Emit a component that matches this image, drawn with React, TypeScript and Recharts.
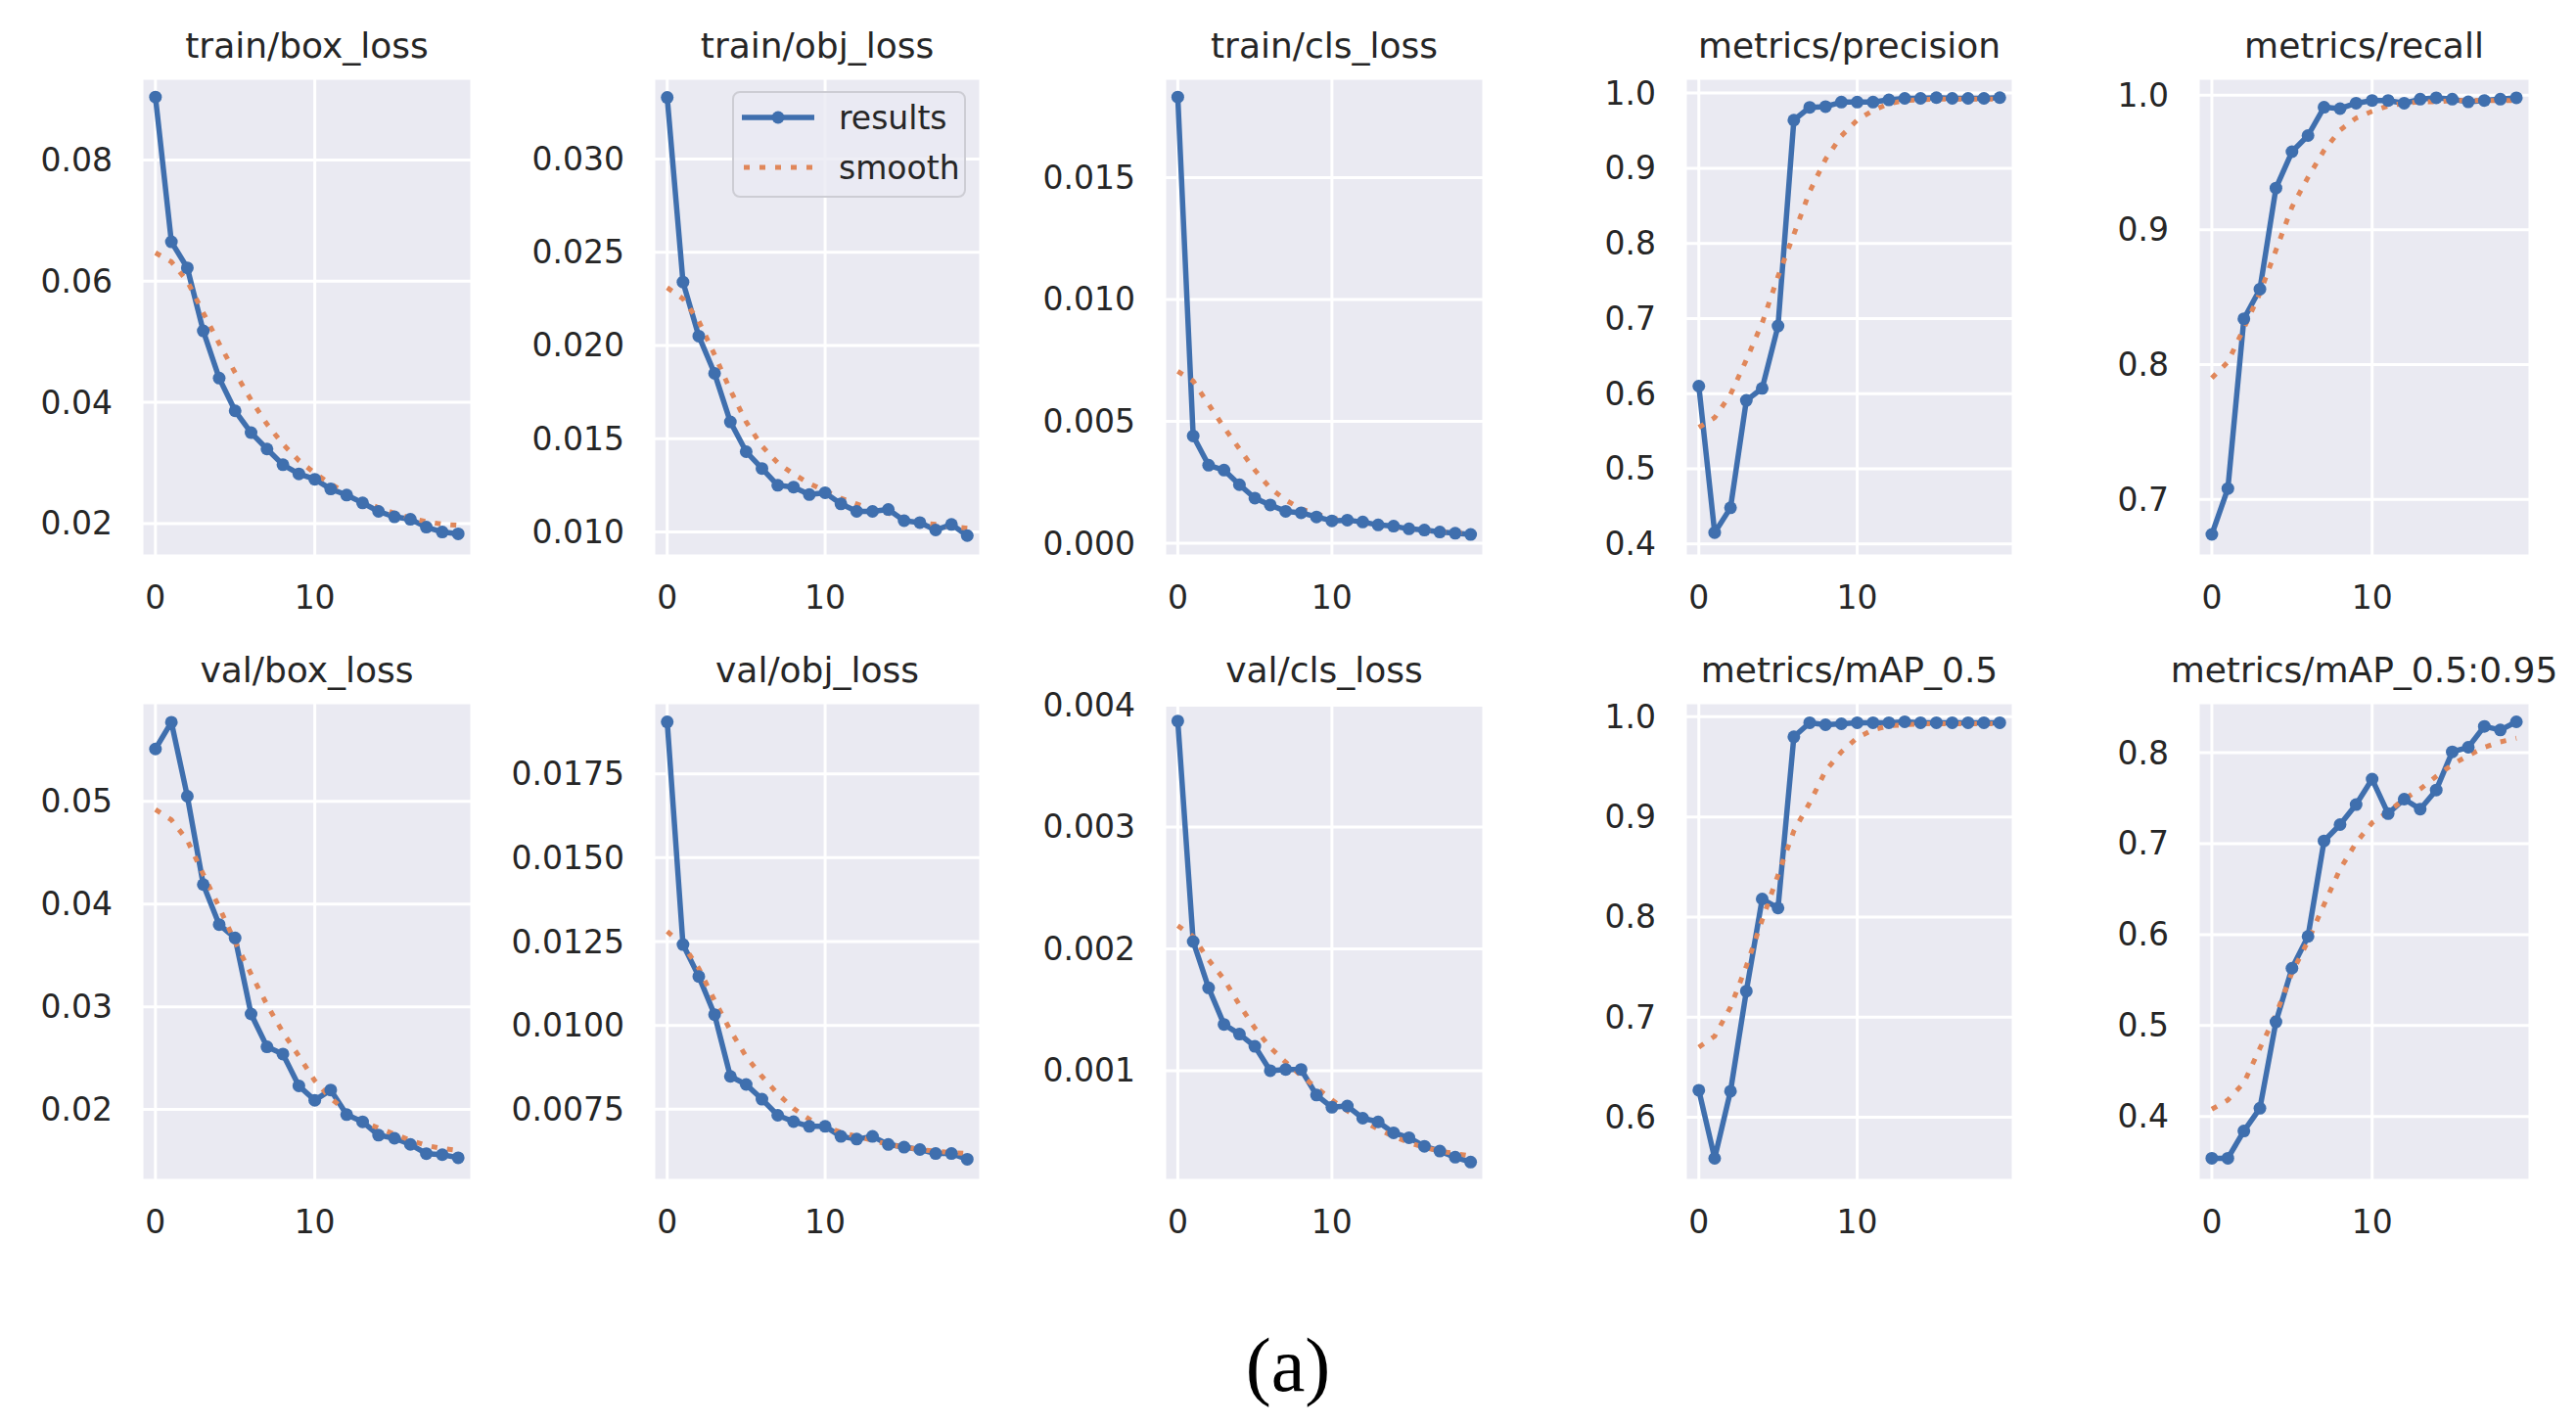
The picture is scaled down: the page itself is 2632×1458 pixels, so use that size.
import React from 'react';
import { LineChart, Line, XAxis, YAxis, CartesianGrid, Legend } from 'recharts';

// ---------------- data ----------------
const epochs = [0, 1, 2, 3, 4, 5, 6, 7, 8, 9, 10, 11, 12, 13, 14, 15, 16, 17, 18, 19];
const xTicks = [0, 10];
const xTickLabels = ['0', '10'];

const titles = [
  'train/box_loss', 'train/obj_loss', 'train/cls_loss', 'metrics/precision', 'metrics/recall',
  'val/box_loss', 'val/obj_loss', 'val/cls_loss', 'metrics/mAP_0.5', 'metrics/mAP_0.5:0.95',
];
const seriesNames = ['results', 'smooth'];
const captionText = '(a)';

const trainBoxResults = [0.0904, 0.0665, 0.0622, 0.0518, 0.0440, 0.0386, 0.0350, 0.0323, 0.0297, 0.0282, 0.0273, 0.0257, 0.0247, 0.0234, 0.0220, 0.0211, 0.0207, 0.0194, 0.0186, 0.0183];
const trainBoxSmooth = [0.0647, 0.0632, 0.0600, 0.0548, 0.0497, 0.0449, 0.0404, 0.0364, 0.0331, 0.0304, 0.0283, 0.0265, 0.0250, 0.0237, 0.0226, 0.0217, 0.0209, 0.0203, 0.0199, 0.0197];

const trainObjResults = [0.0333, 0.0234, 0.0205, 0.0185, 0.0159, 0.0143, 0.0134, 0.0125, 0.0124, 0.0120, 0.0121, 0.0115, 0.0111, 0.0111, 0.0112, 0.0106, 0.0105, 0.0101, 0.0104, 0.0098];
const trainObjSmooth = [0.0231, 0.0225, 0.0213, 0.0195, 0.0176, 0.0159, 0.0146, 0.0137, 0.0131, 0.0126, 0.0122, 0.0118, 0.0115, 0.0112, 0.0110, 0.0107, 0.0105, 0.0104, 0.0103, 0.0102];

const trainClsResults = [0.0183, 0.0044, 0.0032, 0.0030, 0.0024, 0.00185, 0.00157, 0.00131, 0.00125, 0.00108, 0.00092, 0.00095, 0.00087, 0.00075, 0.00070, 0.00059, 0.00054, 0.00046, 0.00041, 0.00036];
const trainClsSmooth = [0.00705, 0.00665, 0.00570, 0.00475, 0.00387, 0.00300, 0.00226, 0.00177, 0.00141, 0.00120, 0.00103, 0.00092, 0.00082, 0.00074, 0.00066, 0.00059, 0.00053, 0.00048, 0.00044, 0.00042];

const precisionResults = [0.610, 0.415, 0.448, 0.591, 0.607, 0.690, 0.964, 0.981, 0.982, 0.988, 0.988, 0.988, 0.991, 0.993, 0.993, 0.994, 0.993, 0.993, 0.993, 0.994];
const precisionSmooth = [0.555, 0.568, 0.599, 0.645, 0.694, 0.756, 0.812, 0.869, 0.912, 0.943, 0.964, 0.977, 0.986, 0.990, 0.991, 0.992, 0.992, 0.992, 0.992, 0.992];

const recallResults = [0.674, 0.708, 0.834, 0.856, 0.931, 0.958, 0.970, 0.991, 0.990, 0.994, 0.996, 0.996, 0.994, 0.997, 0.998, 0.997, 0.995, 0.996, 0.997, 0.998];
const recallSmooth = [0.790, 0.802, 0.827, 0.853, 0.885, 0.917, 0.939, 0.959, 0.974, 0.983, 0.988, 0.992, 0.994, 0.995, 0.995, 0.996, 0.996, 0.996, 0.996, 0.996];

const valBoxResults = [0.0551, 0.0577, 0.0505, 0.0419, 0.0380, 0.0367, 0.0293, 0.0261, 0.0254, 0.0223, 0.0209, 0.0219, 0.0195, 0.0188, 0.0175, 0.0172, 0.0166, 0.0157, 0.0156, 0.0153];
const valBoxSmooth = [0.0492, 0.0482, 0.0462, 0.0429, 0.0397, 0.0363, 0.0332, 0.0302, 0.0275, 0.0252, 0.0228, 0.0211, 0.0198, 0.0188, 0.0182, 0.0176, 0.0170, 0.0165, 0.0162, 0.0160];

const valObjResults = [0.01905, 0.01241, 0.01146, 0.01032, 0.00848, 0.00824, 0.00780, 0.00732, 0.00713, 0.00699, 0.00699, 0.00669, 0.00661, 0.00669, 0.00645, 0.00637, 0.00630, 0.00618, 0.00618, 0.00601];
const valObjSmooth = [0.0128, 0.0124, 0.0117, 0.01074, 0.00985, 0.00907, 0.00848, 0.00796, 0.00752, 0.00720, 0.00699, 0.00681, 0.00669, 0.00657, 0.00645, 0.00637, 0.00630, 0.00625, 0.00621, 0.00618];

const valClsResults = [0.00387, 0.00206, 0.00168, 0.00138, 0.00130, 0.00120, 0.00100, 0.00101, 0.00101, 0.00080, 0.00070, 0.00071, 0.00061, 0.00058, 0.00049, 0.00045, 0.00038, 0.00034, 0.00029, 0.00025];
const valClsSmooth = [0.00219, 0.00210, 0.00191, 0.00175, 0.00154, 0.00135, 0.00119, 0.00107, 0.00096, 0.00086, 0.00076, 0.00067, 0.00059, 0.00052, 0.00046, 0.00041, 0.00037, 0.00034, 0.00032, 0.00030];

const map50Results = [0.627, 0.559, 0.626, 0.726, 0.818, 0.809, 0.980, 0.994, 0.992, 0.993, 0.994, 0.994, 0.994, 0.995, 0.994, 0.994, 0.994, 0.994, 0.994, 0.994];
const map50Smooth = [0.670, 0.681, 0.710, 0.751, 0.797, 0.842, 0.886, 0.914, 0.946, 0.965, 0.979, 0.987, 0.991, 0.992, 0.993, 0.993, 0.993, 0.993, 0.993, 0.993];

const map5095Results = [0.354, 0.354, 0.384, 0.409, 0.504, 0.563, 0.598, 0.703, 0.721, 0.743, 0.771, 0.733, 0.749, 0.738, 0.759, 0.801, 0.806, 0.829, 0.825, 0.834];
const map5095Smooth = [0.408, 0.418, 0.437, 0.475, 0.512, 0.558, 0.593, 0.633, 0.672, 0.701, 0.723, 0.735, 0.749, 0.760, 0.774, 0.787, 0.797, 0.806, 0.812, 0.816];

// y tick values and labels
const ticksTrainBox = [0.02, 0.04, 0.06, 0.08];
const labelsTrainBox = ['0.02', '0.04', '0.06', '0.08'];
const ticksTrainObj = [0.010, 0.015, 0.020, 0.025, 0.030];
const labelsTrainObj = ['0.010', '0.015', '0.020', '0.025', '0.030'];
const ticksTrainCls = [0.000, 0.005, 0.010, 0.015];
const labelsTrainCls = ['0.000', '0.005', '0.010', '0.015'];
const ticksPrecision = [0.4, 0.5, 0.6, 0.7, 0.8, 0.9, 1.0];
const labelsPrecision = ['0.4', '0.5', '0.6', '0.7', '0.8', '0.9', '1.0'];
const ticksRecall = [0.7, 0.8, 0.9, 1.0];
const labelsRecall = ['0.7', '0.8', '0.9', '1.0'];
const ticksValBox = [0.02, 0.03, 0.04, 0.05];
const labelsValBox = ['0.02', '0.03', '0.04', '0.05'];
const ticksValObj = [0.0075, 0.0100, 0.0125, 0.0150, 0.0175];
const labelsValObj = ['0.0075', '0.0100', '0.0125', '0.0150', '0.0175'];
const ticksValCls = [0.001, 0.002, 0.003, 0.004];
const labelsValCls = ['0.001', '0.002', '0.003', '0.004'];
const ticksMap50 = [0.6, 0.7, 0.8, 0.9, 1.0];
const labelsMap50 = ['0.6', '0.7', '0.8', '0.9', '1.0'];
const ticksMap5095 = [0.4, 0.5, 0.6, 0.7, 0.8];
const labelsMap5095 = ['0.4', '0.5', '0.6', '0.7', '0.8'];

// ---------------- axis configuration ----------------
const X_DOMAIN: [number, number] = [-0.85, 19.85];
const yDomains: [number, number][] = [
  [0.01465, 0.0935], [0.00871, 0.03433], [-0.00052, 0.01907], [0.384, 1.0197], [0.658, 1.0125],
  [0.0131, 0.0596], [0.00538, 0.01962], [0.0001, 0.00402], [0.537, 1.014], [0.3297, 0.855],
];

const panelResults = [trainBoxResults, trainObjResults, trainClsResults, precisionResults, recallResults, valBoxResults, valObjResults, valClsResults, map50Results, map5095Results];
const panelSmooth = [trainBoxSmooth, trainObjSmooth, trainClsSmooth, precisionSmooth, recallSmooth, valBoxSmooth, valObjSmooth, valClsSmooth, map50Smooth, map5095Smooth];
const panelTicks = [ticksTrainBox, ticksTrainObj, ticksTrainCls, ticksPrecision, ticksRecall, ticksValBox, ticksValObj, ticksValCls, ticksMap50, ticksMap5095];
const panelLabels = [labelsTrainBox, labelsTrainObj, labelsTrainCls, labelsPrecision, labelsRecall, labelsValBox, labelsValObj, labelsValCls, labelsMap50, labelsMap5095];

// ---------------- layout & style ----------------
const COLS = [
  { left: 145, width: 337 },
  { left: 668, width: 334 },
  { left: 1190, width: 326 },
  { left: 1722, width: 335 },
  { left: 2246, width: 339 },
];
const ROWS = [
  { top: 80, height: 488, titleBaseline: 59 },
  { top: 718, height: 488, titleBaseline: 697 },
];

const BLUE = '#3F6FAE';
const ORANGE = '#E0875A';
const BG = '#EAEAF2';
const TEXT = '#262626';
const FONT = "'DejaVu Sans', sans-serif";
const TICK_FS = 33;
const TITLE_FS = 36;

const YW = 180;
const TM = 30;
const RM = 12;
const XH = 70;

const YTick = (props: any) => {
  const { x, y, payload, ticks, labels } = props;
  const idx = ticks.indexOf(payload.value);
  return (
    <text x={x - 30} y={y} textAnchor="end" dominantBaseline="central" fontFamily={FONT} fontSize={TICK_FS} fill={TEXT}>
      {idx >= 0 ? labels[idx] : String(payload.value)}
    </text>
  );
};

const XTick = (props: any) => {
  const { x, y, payload } = props;
  const idx = xTicks.indexOf(payload.value);
  return (
    <text x={x} y={y + 42} textAnchor="middle" dominantBaseline="central" fontFamily={FONT} fontSize={TICK_FS} fill={TEXT}>
      {idx >= 0 ? xTickLabels[idx] : String(payload.value)}
    </text>
  );
};

const LEG_W = 239;
const LEG_H = 109;

const LegendBox = (props: any) => {
  const payload = props.payload || [];
  const rowsY = [27, 78];
  return (
    <svg width={LEG_W} height={LEG_H} style={{ display: 'block' }}>
      <rect x={1} y={1} width={LEG_W - 2} height={LEG_H - 2} rx={7} ry={7} fill={BG} fillOpacity={0.8} stroke="#CDCDD4" strokeWidth={2} />
      {payload.map((item: any, i: number) => {
        const cy = rowsY[i] ?? 27 + i * 51;
        const solid = item.value === seriesNames[0];
        return (
          <g key={i}>
            {solid ? (
              <g>
                <line x1={10} x2={84} y1={cy} y2={cy} stroke={item.color} strokeWidth={5.5} />
                <circle cx={47} cy={cy} r={6.5} fill={item.color} />
              </g>
            ) : (
              <line x1={12} x2={84} y1={cy} y2={cy} stroke={item.color} strokeWidth={5} strokeDasharray="6 10" />
            )}
            <text x={109} y={cy} dominantBaseline="central" fontFamily={FONT} fontSize={TICK_FS} fill={TEXT}>
              {item.value}
            </text>
          </g>
        );
      })}
    </svg>
  );
};

function Panel({ index }: { index: number }) {
  const col = COLS[index % 5];
  const row = ROWS[Math.floor(index / 5)];
  const res = panelResults[index];
  const sm = panelSmooth[index];
  const data = epochs.map((e, i) => ({ epoch: e, results: res[i], smooth: sm[i] }));
  const ticks = panelTicks[index];
  const labels = panelLabels[index];
  const showLegend = index === 1;
  return (
    <div style={{ position: 'absolute', left: col.left - YW, top: row.top - TM }}>
      <LineChart
        width={YW + col.width + RM}
        height={TM + row.height + XH}
        data={data}
        margin={{ top: TM, right: RM, left: 0, bottom: 0 }}
      >
        <CartesianGrid fill={BG} stroke="#FFFFFF" strokeWidth={3} />
        <XAxis
          dataKey="epoch"
          type="number"
          domain={X_DOMAIN}
          ticks={xTicks}
          allowDataOverflow
          interval={0}
          tickLine={false}
          axisLine={false}
          tickSize={0}
          tickMargin={0}
          height={XH}
          tick={(p: any) => <XTick {...p} />}
        />
        <YAxis
          type="number"
          domain={yDomains[index]}
          ticks={ticks}
          allowDataOverflow
          interval={0}
          tickLine={false}
          axisLine={false}
          tickSize={0}
          tickMargin={0}
          width={YW}
          tick={(p: any) => <YTick {...p} ticks={ticks} labels={labels} />}
        />
        <Line
          name={seriesNames[0]}
          dataKey="results"
          stroke={BLUE}
          strokeWidth={5.5}
          strokeLinejoin="round"
          dot={{ r: 6.5, fill: BLUE, stroke: 'none', strokeWidth: 0 }}
          activeDot={false}
          isAnimationActive={false}
        />
        <Line
          name={seriesNames[1]}
          dataKey="smooth"
          stroke={ORANGE}
          strokeWidth={5}
          strokeDasharray="6 10"
          dot={false}
          activeDot={false}
          isAnimationActive={false}
        />
        {showLegend && (
          <Legend
            layout="vertical"
            align="center"
            verticalAlign="middle"
            content={(p: any) => <LegendBox {...p} />}
            wrapperStyle={{ left: YW + 80, top: TM + 13, width: LEG_W, height: LEG_H }}
          />
        )}
      </LineChart>
      <div
        style={{
          position: 'absolute',
          left: YW,
          width: col.width,
          top: row.titleBaseline - row.top + TM - 0.846 * TITLE_FS,
          height: TITLE_FS,
          lineHeight: `${TITLE_FS}px`,
          fontFamily: FONT,
          fontSize: TITLE_FS,
          color: TEXT,
          textAlign: 'center',
          whiteSpace: 'nowrap',
          display: 'flex',
          justifyContent: 'center',
        }}
      >
        <span>{titles[index]}</span>
      </div>
    </div>
  );
}

export default function App() {
  return (
    <div
      style={{
        position: 'absolute',
        left: 0,
        top: 0,
        width: 2632,
        height: 1458,
        background: '#FFFFFF',
        overflow: 'hidden',
      }}
    >
      {titles.map((_, i) => (
        <Panel key={i} index={i} />
      ))}
      <div
        style={{
          position: 'absolute',
          left: 0,
          width: 2632,
          top: 1356,
          height: 78,
          lineHeight: '78px',
          textAlign: 'center',
          fontFamily: "'Liberation Serif', 'Times New Roman', serif",
          fontSize: 78,
          color: '#000000',
        }}
      >
        {captionText}
      </div>
    </div>
  );
}
